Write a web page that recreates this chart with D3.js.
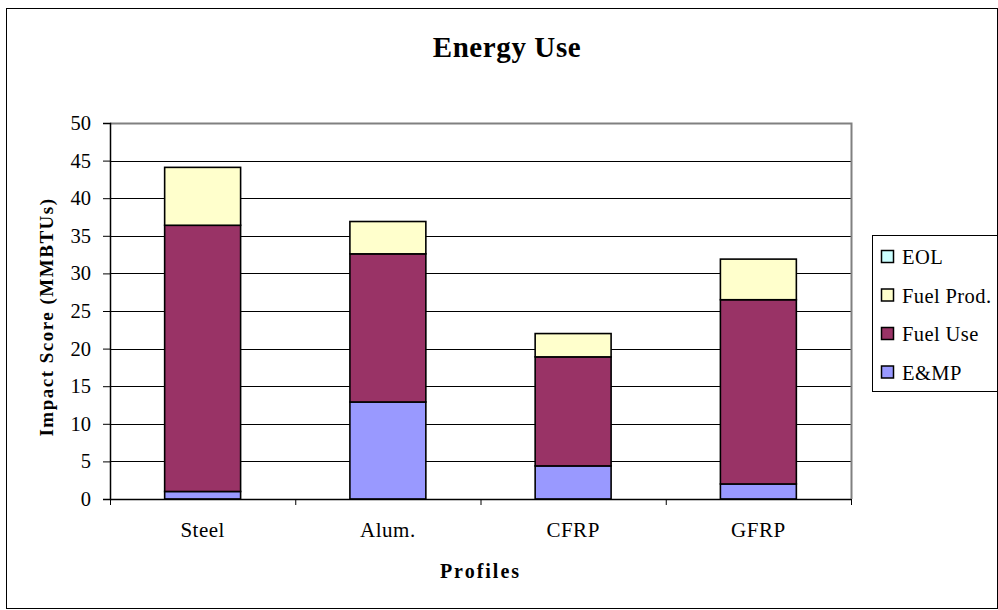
<!DOCTYPE html>
<html>
<head>
<meta charset="utf-8">
<script src="https://cdn.jsdelivr.net/npm/d3@7/dist/d3.min.js"></script>
<style>
  html, body { margin: 0; padding: 0; background: #fff; }
  svg { display: block; }
  text { font-family: "Liberation Serif", "Times New Roman", serif; fill: #000; }
</style>
</head>
<body>
<svg id="chart" width="998" height="610"></svg>
<script>
// Energy use per profile, stacked by life-cycle stage (MMBTUs)
const categories = ["Steel", "Alum.", "CFRP", "GFRP"];
const emp      = [1.0, 12.9, 4.4, 2.0];
const fuelUse  = [35.4, 19.7, 14.5, 24.5];
const fuelProd = [7.7, 4.3, 3.1, 5.4];
const eol      = [0, 0, 0, 0];
const yTicks   = [0, 5, 10, 15, 20, 25, 30, 35, 40, 45, 50];

const seriesNames  = ["E&MP", "Fuel Use", "Fuel Prod.", "EOL"];
const seriesColors = ["#9999FF", "#993366", "#FFFFCC", "#CCFFFF"];
const seriesValues = [emp, fuelUse, fuelProd, eol];

const svg = d3.select("#chart");

// outer chart frame
svg.append("rect")
  .attr("x", 6.5).attr("y", 8.5)
  .attr("width", 991).attr("height", 600)
  .attr("fill", "none").attr("stroke", "#000").attr("stroke-width", 1);

const plot = { left: 110, right: 851, top: 123, bottom: 499 };

const x = d3.scaleBand().domain(categories)
  .range([plot.left, plot.right]).paddingInner(0.59).paddingOuter(0.295);
const xBand = d3.scaleBand().domain(categories).range([plot.left, plot.right]);
const y = d3.scaleLinear().domain([0, 50]).range([plot.bottom, plot.top]);

// table rows for stacking
const rows = categories.map((c, i) => {
  const r = { cat: c };
  seriesNames.forEach((s, k) => { r[s] = seriesValues[k][i]; });
  return r;
});
const stacked = d3.stack().keys(seriesNames)(rows);

// horizontal gridlines
svg.append("g").selectAll("line")
  .data(yTicks.filter(t => t > 0 && t < 50))
  .join("line")
  .attr("x1", plot.left).attr("x2", plot.right)
  .attr("y1", d => Math.round(y(d)) + 0.5).attr("y2", d => Math.round(y(d)) + 0.5)
  .attr("stroke", "#000").attr("stroke-width", 1);

// plot frame (top and right in grey)
svg.append("path")
  .attr("d", `M${plot.left},${plot.top + 0.5}H${plot.right + 0.5}V${plot.bottom}`)
  .attr("fill", "none").attr("stroke", "#808080").attr("stroke-width", 2);

// stacked bars
svg.append("g").selectAll("g")
  .data(stacked)
  .join("g")
  .attr("fill", (d, k) => seriesColors[k])
  .selectAll("rect")
  .data(d => d.filter(p => p[1] - p[0] > 0))
  .join("rect")
  .attr("x", d => x(d.data.cat))
  .attr("width", x.bandwidth())
  .attr("y", d => y(d[1]))
  .attr("height", d => y(d[0]) - y(d[1]))
  .attr("stroke", "#000").attr("stroke-width", 1.6);

// y axis
const yAxis = d3.axisLeft(y).tickValues(yTicks).tickSize(7).tickPadding(12);
const gy = svg.append("g").attr("transform", `translate(${plot.left},0)`).call(yAxis);
gy.select(".domain").attr("stroke", "#000").attr("stroke-width", 1.5);
gy.selectAll(".tick line").attr("stroke", "#000");
gy.selectAll("text").attr("font-size", 20.5).attr("font-family", "Liberation Serif").attr("fill", "#000");

// x axis: ticks between categories
const bounds = categories.map(c => xBand(c)).concat([plot.right]);
svg.append("line")
  .attr("x1", plot.left).attr("x2", plot.right)
  .attr("y1", plot.bottom + 0.5).attr("y2", plot.bottom + 0.5)
  .attr("stroke", "#000").attr("stroke-width", 1.5);
svg.append("g").selectAll("line")
  .data(bounds).join("line")
  .attr("x1", d => d + 0.5).attr("x2", d => d + 0.5)
  .attr("y1", plot.bottom).attr("y2", plot.bottom + 6)
  .attr("stroke", "#000");
svg.append("g").selectAll("text")
  .data(categories).join("text")
  .attr("x", d => xBand(d) + xBand.bandwidth() / 2)
  .attr("y", 537)
  .attr("text-anchor", "middle")
  .attr("font-size", 21)
  .attr("letter-spacing", 0.5)
  .text(d => d);

// titles
svg.append("text")
  .attr("x", 507).attr("y", 57)
  .attr("text-anchor", "middle")
  .attr("font-size", 29).attr("font-weight", "bold")
  .attr("letter-spacing", 0.6)
  .text("Energy Use");

svg.append("text")
  .attr("x", (plot.left + plot.right) / 2).attr("y", 578)
  .attr("text-anchor", "middle")
  .attr("font-size", 20).attr("font-weight", "bold")
  .attr("letter-spacing", 2)
  .text("Profiles");

svg.append("text")
  .attr("transform", `translate(53,317) rotate(-90)`)
  .attr("text-anchor", "middle")
  .attr("font-size", 19).attr("font-weight", "bold")
  .attr("letter-spacing", 1.5)
  .text("Impact Score (MMBTUs)");

// legend (listed top-down in reverse stacking order)
const legend = svg.append("g");
legend.append("rect")
  .attr("x", 872.5).attr("y", 235.5)
  .attr("width", 125).attr("height", 156)
  .attr("fill", "#fff").attr("stroke", "#000").attr("stroke-width", 1);
const legendOrder = d3.range(seriesNames.length).reverse();
const items = legend.selectAll("g.item")
  .data(legendOrder).join("g")
  .attr("class", "item")
  .attr("transform", (k, i) => `translate(881,${257 + i * 38.5})`);
items.append("rect")
  .attr("x", 0.5).attr("y", -6.5)
  .attr("width", 12).attr("height", 12)
  .attr("fill", k => seriesColors[k])
  .attr("stroke", "#000").attr("stroke-width", 1.5);
items.append("text")
  .attr("x", 21).attr("y", 7)
  .attr("font-size", 20.5)
  .attr("letter-spacing", 0.4)
  .text(k => seriesNames[k]);
</script>
</body>
</html>
